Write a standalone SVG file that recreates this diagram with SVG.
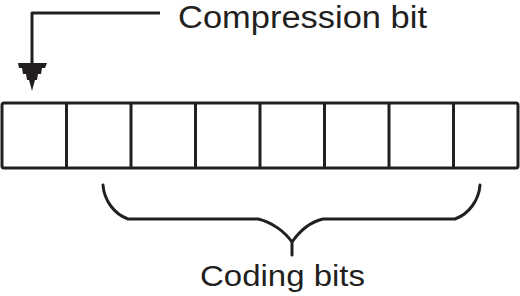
<svg xmlns="http://www.w3.org/2000/svg" width="520" height="296" viewBox="0 0 520 296">
<style>
.ln{fill:none;stroke:#231f20;stroke-width:3;stroke-linejoin:round}
.box{fill:#fff;stroke:#231f20;stroke-width:3}
.t{font-family:"Liberation Sans",Arial,sans-serif;fill:#231f20}
</style>
<rect width="520" height="296" fill="#fff"/>
<g id="register">
<rect class="box" x="2" y="103" width="516" height="65" rx="2"/>
<path class="ln" d="M66.5,103V168M131,103V168M195.5,103V168M260,103V168M324.5,103V168M389,103V168M453.5,103V168"/>
</g>
<g id="connectors">
<path class="ln" d="M160,13H32V66"/>
<path d="M18,63L47,63L45,68L42,68L41,74L38,74L37,80L35,80L32,91L29,80L27,80L26,74L23,74L22,68L19,68Z" fill="#231f20"/>
<path class="ln" stroke-width="4" stroke-linecap="round" d="M103,185C104,200 114,214 128,219H258C272,222 285,232 292,242V255M292,242C299,232 310,222 323,219H455C469,214 479,200 480,185"/>
</g>
<g id="label-compression"><text class="t" font-size="31" x="178" y="28" textLength="249" lengthAdjust="spacingAndGlyphs">Compression bit</text></g>
<g id="label-coding"><text class="t" font-size="30" x="200" y="286" textLength="165" lengthAdjust="spacingAndGlyphs">Coding bits</text></g>
</svg>
